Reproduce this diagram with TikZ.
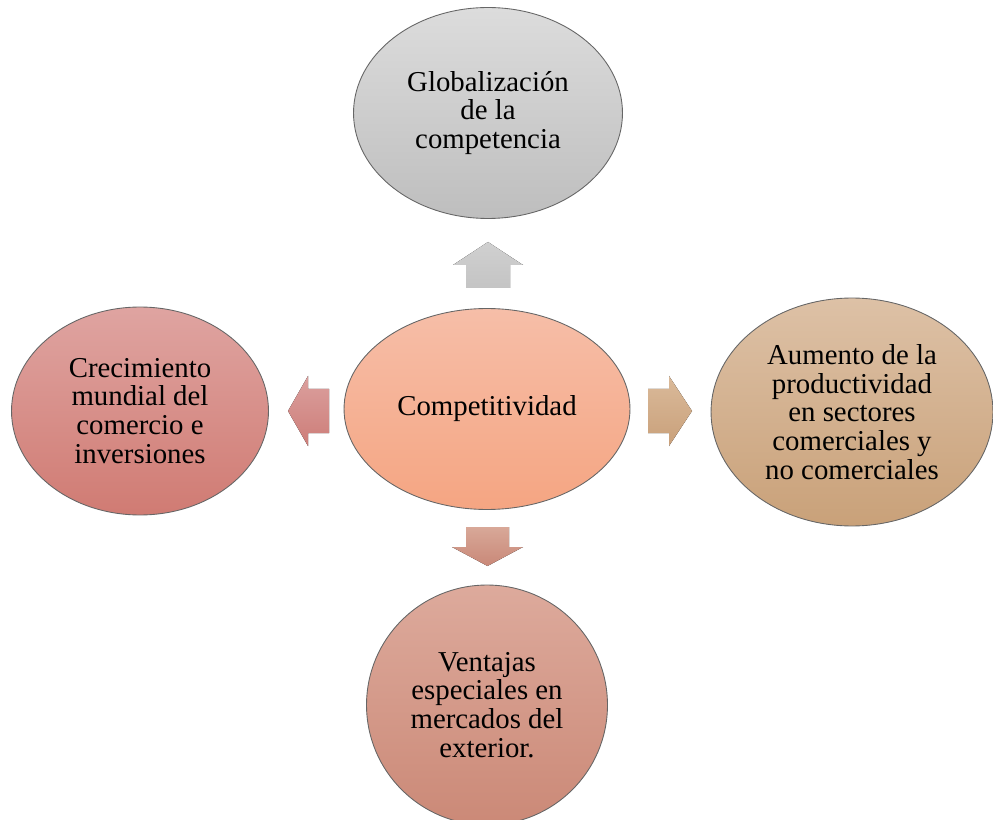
\documentclass[tikz,border=0pt]{standalone}
\usepackage{fontspec}
\setmainfont{Liberation Serif}
\usetikzlibrary{positioning,shapes}

\tikzset{
  bubble/.style={shape=ellipse,draw=black!60,line width=0.5pt,align=center,inner sep=0pt,
                 font=\fontsize{16.4}{16.4}\selectfont},
  blockarrow/.style={draw=none}
}

\begin{document}
\begin{tikzpicture}[x=0.02cm,y=-0.02cm]
                    \useasboundingbox (0,0) rectangle (993,820);
                    \node[bubble,minimum width=5.72cm,minimum height=4.02cm,top color={rgb,255:red,246;green,190;blue,168},bottom color={rgb,255:red,245;green,165;blue,130}] (comp) at (487,409) {Competitividad};
                    \node[bubble,minimum width=5.38cm,minimum height=4.22cm,top color={rgb,255:red,220;green,220;blue,220},bottom color={rgb,255:red,190;green,190;blue,190}] (glob) at (488,113) {Globalización\\de la\\competencia};
                    \node[bubble,minimum width=5.14cm,minimum height=4.16cm,top color={rgb,255:red,223;green,164;blue,161},bottom color={rgb,255:red,208;green,123;blue,115}] (crec) at (140,411) {Crecimiento\\mundial del\\comercio e\\inversiones};
                    \node[bubble,minimum width=5.64cm,minimum height=4.56cm,top color={rgb,255:red,221;green,193;blue,166},bottom color={rgb,255:red,201;green,161;blue,121}] (aum) at (852,412) {Aumento de la\\productividad\\en sectores\\comerciales y\\no comerciales};
                    \node[bubble,minimum width=4.82cm,minimum height=4.8cm,top color={rgb,255:red,221;green,170;blue,156},bottom color={rgb,255:red,203;green,137;blue,119}] (vent) at (487,705) {Ventajas\\especiales en\\mercados del\\exterior.};
                    % arrows
                    \fill[top color={rgb,255:red,208;green,208;blue,208},bottom color={rgb,255:red,196;green,196;blue,196}]
                      (466,288) -- (466,265) -- (453,265) -- (488,242) -- (523,265) -- (510,265) -- (510,288) -- cycle;
                    \fill[top color={rgb,255:red,219;green,160;blue,158},bottom color={rgb,255:red,205;green,125;blue,120}]
                      (329,389) -- (308,389) -- (308,376) -- (288,411) -- (308,446) -- (308,433) -- (329,433) -- cycle;
                    \fill[top color={rgb,255:red,218;green,186;blue,154},bottom color={rgb,255:red,201;green,160;blue,122}]
                      (648,389) -- (669,389) -- (669,376) -- (692,411) -- (669,446) -- (669,433) -- (648,433) -- cycle;
                    \fill[top color={rgb,255:red,216;green,168;blue,152},bottom color={rgb,255:red,201;green,136;blue,120}]
                      (466,527) -- (509,527) -- (509,547) -- (523,547) -- (487.5,566) -- (452,547) -- (466,547) -- cycle;
                \end{tikzpicture}
\end{document}
